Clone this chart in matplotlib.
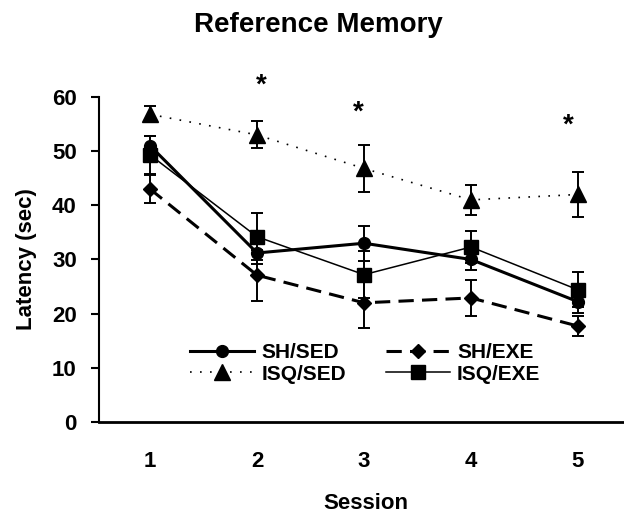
import matplotlib
matplotlib.use("Agg")
import matplotlib.pyplot as plt
from matplotlib.lines import Line2D

plt.rcParams["font.family"] = ["Liberation Sans", "DejaVu Sans"]
plt.rcParams["font.weight"] = "bold"

sessions = [1, 2, 3, 4, 5]
sh_sed = [51.0, 31.2, 33.0, 30.0, 22.2]
sh_sed_err = [1.8, 2.0, 3.2, 2.0, 2.0]
sh_exe = [43.0, 27.1, 22.0, 22.9, 17.7]
sh_exe_err = [2.6, 4.7, 4.7, 3.3, 1.8]
isq_sed = [56.8, 53.0, 46.8, 41.0, 42.0]
isq_sed_err = [1.5, 2.5, 4.3, 2.7, 4.1]
isq_exe = [49.3, 34.2, 27.2, 32.3, 24.4]
isq_exe_err = [3.5, 4.3, 4.3, 3.0, 3.2]
star_x = [2.04, 2.95, 4.91]
star_y = [63.7, 58.8, 56.4]

styles = {
    "SH/SED": dict(marker="o", markersize=8.5, linestyle="-", linewidth=2.2),
    "SH/EXE": dict(marker="D", markersize=7.5, linestyle=(0, (5, 2.7)), linewidth=2.2),
    "ISQ/SED": dict(marker="^", markersize=11, linestyle=(0, (1, 5)), linewidth=1.2),
    "ISQ/EXE": dict(marker="s", markersize=10, linestyle="-", linewidth=1.1),
}
series = {
    "SH/SED": (sh_sed, sh_sed_err),
    "SH/EXE": (sh_exe, sh_exe_err),
    "ISQ/SED": (isq_sed, isq_sed_err),
    "ISQ/EXE": (isq_exe, isq_exe_err),
}

fig = plt.figure(figsize=(6.24, 5.2), dpi=100)
ax = fig.add_axes([0.1587, 0.1885, 0.8413, 0.625])

for name, (vals, errs) in series.items():
    ax.errorbar(sessions, vals, yerr=errs, color="black", ecolor="black",
                elinewidth=1.4, capsize=4.3, capthick=1.4, zorder=4, **styles[name])

# asterisk glyph sits ~0.58 em above baseline, shift so the glyph centre lands on star_y
for s, y in zip(star_x, star_y):
    ax.text(s, y - 2.9, "*", ha="center", va="baseline", fontsize=20,
            fontweight="bold", clip_on=False)

ax.set_xlim(0.523, 5.43)
ax.set_ylim(0, 60)
ax.set_yticks([0, 10, 20, 30, 40, 50, 60])
ax.set_xticks(sessions)
ax.tick_params(axis="x", length=0, pad=21, labelsize=16)
ax.tick_params(axis="y", length=6, width=1.5, pad=10, labelsize=16)
for sp in ["top", "right"]:
    ax.spines[sp].set_visible(False)
ax.spines["left"].set_linewidth(1.5)
ax.spines["bottom"].set_linewidth(2.0)

ax.set_xlabel("Session", fontsize=16, fontweight="bold", va="center")
ax.xaxis.set_label_coords(0.509, -0.252)
ax.set_ylabel("Latency (sec)", fontsize=16, fontweight="bold", va="center")
ax.yaxis.set_label_coords(-0.139, 0.5)
fig.text(0.511, 1 - 32 / 520, "Reference Memory", ha="center", va="baseline",
         fontsize=20, fontweight="bold")

order = ["SH/SED", "ISQ/SED", "SH/EXE", "ISQ/EXE"]
handles = [Line2D([], [], color="black", **styles[n]) for n in order]
ax.legend(handles, order, ncol=2, frameon=False, loc="center left",
          bbox_to_anchor=(0.173, 0.18), fontsize=15, borderpad=0, borderaxespad=0,
          handlelength=3.1, columnspacing=1.9, labelspacing=0.1, handletextpad=0.33)

fig.savefig("out.png", dpi=100)
